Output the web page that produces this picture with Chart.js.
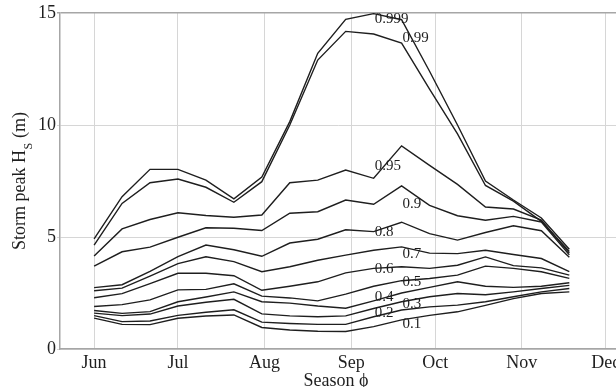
<!DOCTYPE html>
<html>
<head>
<meta charset="utf-8">
<script src="https://cdn.jsdelivr.net/npm/chart.js@4.4.1/dist/chart.umd.min.js"></script>
<style>
  html, body { margin: 0; padding: 0; background: #fff; overflow: hidden; }
  canvas { display: block; }
</style>
</head>
<body>
<canvas id="hsChart" width="616" height="387"></canvas>
<script>
// season axis: days after 1 June, one estimate every 10 days
const seasonDays = [0, 10, 20, 30, 40, 50, 60, 70, 80, 90, 100, 110, 120, 130, 140, 150, 160, 170];
const monthDays = [0, 30, 61, 92, 122, 153, 183];
const monthNames = ['Jun', 'Jul', 'Aug', 'Sep', 'Oct', 'Nov', 'Dec'];
const hsTicks = [0, 5, 10, 15];

// storm peak Hs quantiles (m)
const q01 = [1.38, 1.10, 1.09, 1.37, 1.47, 1.52, 0.96, 0.85, 0.79, 0.78, 1.00, 1.30, 1.50, 1.66, 1.95, 2.25, 2.48, 2.55];
const q02 = [1.49, 1.22, 1.25, 1.50, 1.64, 1.75, 1.20, 1.14, 1.10, 1.10, 1.44, 1.74, 1.88, 1.96, 2.11, 2.33, 2.55, 2.70];
const q03 = [1.60, 1.49, 1.56, 1.92, 2.09, 2.22, 1.57, 1.48, 1.44, 1.48, 1.81, 2.11, 2.33, 2.48, 2.42, 2.55, 2.70, 2.84];
const q04 = [1.72, 1.59, 1.67, 2.11, 2.32, 2.55, 2.11, 2.05, 1.92, 1.82, 2.15, 2.50, 2.75, 3.00, 2.80, 2.75, 2.80, 2.96];
const q05 = [1.90, 1.98, 2.19, 2.64, 2.66, 2.91, 2.36, 2.28, 2.15, 2.45, 2.80, 3.05, 3.15, 3.30, 3.70, 3.60, 3.45, 3.15];
const q06 = [2.29, 2.47, 2.92, 3.38, 3.38, 3.27, 2.62, 2.80, 3.00, 3.40, 3.60, 3.67, 3.60, 3.74, 4.11, 3.72, 3.62, 3.30];
const q07 = [2.60, 2.72, 3.25, 3.81, 4.12, 3.90, 3.45, 3.67, 3.96, 4.19, 4.41, 4.56, 4.28, 4.26, 4.41, 4.22, 4.04, 3.45];
const q08 = [2.74, 2.87, 3.47, 4.12, 4.64, 4.43, 4.14, 4.73, 4.90, 5.32, 5.24, 5.66, 5.15, 4.86, 5.20, 5.50, 5.28, 4.10];
const q09 = [3.70, 4.34, 4.55, 4.99, 5.41, 5.39, 5.29, 6.06, 6.13, 6.65, 6.46, 7.28, 6.41, 5.95, 5.75, 5.92, 5.67, 4.20];
const q095 = [4.15, 5.36, 5.78, 6.08, 5.96, 5.88, 5.98, 7.42, 7.54, 7.99, 7.62, 9.07, 8.20, 7.35, 6.34, 6.25, 5.75, 4.28];
const q099 = [4.64, 6.50, 7.42, 7.59, 7.22, 6.55, 7.47, 10.00, 12.90, 14.18, 14.06, 13.66, 11.60, 9.60, 7.30, 6.60, 5.70, 4.35];
const q0999 = [4.92, 6.80, 8.02, 8.02, 7.54, 6.70, 7.68, 10.15, 13.20, 14.72, 14.97, 14.70, 12.40, 10.00, 7.50, 6.65, 5.85, 4.45];

const series = [
  ['0.1', q01], ['0.2', q02], ['0.3', q03], ['0.4', q04], ['0.5', q05], ['0.6', q06],
  ['0.7', q07], ['0.8', q08], ['0.9', q09], ['0.95', q095], ['0.99', q099], ['0.999', q0999]
];

// where each curve gets its name: point index along the curve, vertical nudge in px
const labelSpots = {
  '0.999': [10, 5], '0.99': [11, -5], '0.95': [10, -12], '0.9': [11, 18],
  '0.8': [10, 0], '0.7': [11, 7], '0.6': [10, 1], '0.5': [11, 1],
  '0.4': [10, -4], '0.3': [11, 2], '0.2': [10, -4], '0.1': [11, 4]
};

const ink = '#1e1e1e';
const serif = "'Liberation Serif', 'DejaVu Serif', serif";
const gridGrey = '#d6d6d6';
const frameGrey = '#a6a6a6';

const curveText = {
  id: 'curveText',
  afterDatasetsDraw(chart) {
    const {ctx, scales: {x, y}} = chart;
    ctx.save();
    ctx.fillStyle = ink;

    ctx.font = '15px ' + serif;
    ctx.textAlign = 'left';
    ctx.textBaseline = 'middle';
    series.forEach(([name, vals]) => {
      const [i, dy] = labelSpots[name];
      ctx.fillText(name, x.getPixelForValue(seasonDays[i]) + 1, y.getPixelForValue(vals[i]) + dy);
    });

    // y title with subscript S
    const main = 'Storm peak H', sub = 'S', tail = ' (m)';
    ctx.textBaseline = 'alphabetic';
    ctx.font = '18px ' + serif;
    const w1 = ctx.measureText(main).width, w3 = ctx.measureText(tail).width;
    ctx.font = '12px ' + serif;
    const w2 = ctx.measureText(sub).width + 1;
    const total = w1 + w2 + w3;
    ctx.translate(25, (chart.chartArea.top + chart.chartArea.bottom) / 2);
    ctx.rotate(-Math.PI / 2);
    let cx = -total / 2;
    ctx.font = '18px ' + serif;
    ctx.fillText(main, cx, 0);
    cx += w1;
    ctx.font = '12px ' + serif;
    ctx.fillText(sub, cx + 0.5, 7);
    cx += w2;
    ctx.font = '18px ' + serif;
    ctx.fillText(tail, cx, 0);
    ctx.restore();

    ctx.save();
    ctx.fillStyle = ink;
    ctx.font = '18px ' + serif;
    ctx.textAlign = 'center';
    ctx.textBaseline = 'alphabetic';
    ctx.fillText('Season \u03D5', 336, 386);
    ctx.restore();
  }
};

new Chart(document.getElementById('hsChart'), {
  type: 'line',
  data: {
    datasets: series.map(([name, vals]) => ({
      label: name,
      data: vals.map((v, i) => ({x: seasonDays[i], y: v})),
      borderColor: ink,
      borderWidth: 1.4,
      pointRadius: 0,
      tension: 0,
      fill: false
    }))
  },
  options: {
    responsive: false,
    animation: false,
    layout: {padding: {top: 13, left: 0, right: 0, bottom: 0}},
    plugins: {legend: {display: false}, tooltip: {enabled: false}},
    scales: {
      x: {
        type: 'linear',
        min: -12.2,
        max: 186.7,
        afterBuildTicks: s => { s.ticks = monthDays.map(v => ({value: v})); },
        afterFit: s => { s.height = 38; s.paddingLeft = 0; s.paddingRight = 0; },
        ticks: {
          callback: (v, i) => monthNames[i],
          autoSkip: false,
          maxRotation: 0,
          padding: 3,
          color: ink,
          font: {family: serif, size: 18}
        },
        grid: {color: gridGrey, lineWidth: 1, drawTicks: false},
        border: {color: frameGrey, width: 1.5}
      },
      y: {
        min: 0,
        max: 15,
        afterBuildTicks: s => { s.ticks = hsTicks.map(v => ({value: v})); },
        afterFit: s => { s.width = 60; },
        ticks: {
          padding: 1,
          color: ink,
          font: {family: serif, size: 18}
        },
        grid: {
          color: c => c.tick && c.tick.value === 15 ? frameGrey : gridGrey,
          lineWidth: c => c.tick && c.tick.value === 15 ? 1.5 : 1,
          tickLength: 3
        },
        border: {color: frameGrey, width: 1.5}
      }
    }
  },
  plugins: [curveText]
});
</script>
</body>
</html>
